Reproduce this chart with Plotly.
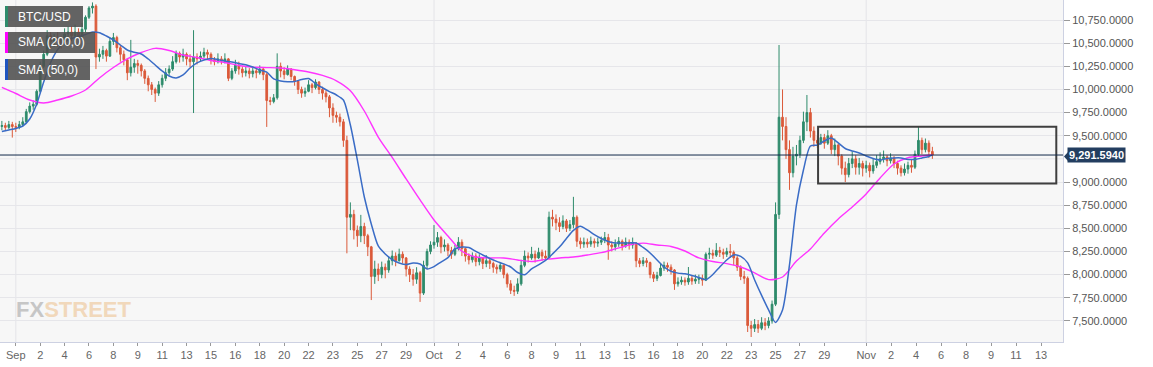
import plotly.graph_objects as go
import pandas as pd

# ---------------- data (6-hour candles) ----------------
candle_start = "2019-08-31 00:00"

opens = [
    9600, 9610, 9590, 9620,   9600, 9590, 9620, 9650,   9760, 9820, 9840, 9980,
    10250, 10380, 10580, 10520,   10560, 10540, 10500, 10600,   10620, 10580, 10620, 10560,
    10650, 10780, 10880, 10900,   10350, 10380, 10420, 10360,   10520, 10560, 10450, 10380,
    10320, 10180, 10240, 10280,   10260, 10200, 10120, 10050,   10000, 9960, 10050, 10120,
    10180, 10220, 10300, 10390,   10350, 10380, 10330, 10300,   10350, 10330, 10360, 10400,
    10380, 10320, 10300, 10330,   10310, 10330, 10120, 10200,   10260, 10220, 10180, 10200,
    10170, 10200, 10180, 10220,   10160, 9880, 9870, 9910,   10250, 10200, 10160, 10220,
    10140, 10090, 10000, 9960,   9980, 10050, 10020, 10080,   10000, 9960, 9920, 9800,
    9720, 9700, 9650, 9450,   8620, 8650, 8480, 8420,   8520, 8420, 8300, 7980,
    8060, 8000, 8080, 8050,   8150, 8200, 8150, 8220,   8180, 8060, 8000, 7950,
    8020, 7800, 8100, 8250,   8320, 8350, 8400, 8300,   8320, 8260, 8220, 8280,
    8350, 8280, 8200, 8160,   8200, 8140, 8180, 8120,   8150, 8120, 8080, 8060,
    8100, 8000, 7900, 7830,   7820, 7900, 8100, 8200,   8180, 8220, 8180, 8240,
    8200, 8180, 8620, 8600,   8560, 8520, 8580, 8500,   8540, 8620, 8360, 8330,
    8350, 8330, 8360, 8340,   8350, 8370, 8400, 8320,   8300, 8330, 8360, 8310,
    8350, 8320, 8340, 8150,   8120, 8150, 8130, 8000,   7960, 7990, 8070, 8100,
    8080, 8050, 7900, 7920,   7940, 7920, 7960, 7930,   7950, 7960, 7940, 8220,
    8230, 8210, 8260, 8240,   8220, 8250, 8240, 8180,   8080, 7980, 7960, 7450,
    7420, 7460, 7420, 7480,   7450, 7500, 7680, 8650,   9700, 9600, 9350, 9100,
    9280, 9300, 9450, 9650,   9750, 9550, 9450, 9420,   9480, 9420, 9500, 9350,
    9400, 9280, 9150, 9080,   9200, 9250, 9160, 9200,   9150, 9180, 9120, 9180,
    9220, 9250, 9270, 9230,   9260, 9200, 9150, 9100,   9140, 9180, 9160, 9300,
    9450, 9350, 9420, 9330,
]
closes = [
    9610, 9590, 9620, 9600,   9590, 9620, 9650, 9760,   9820, 9840, 9980, 10250,
    10380, 10580, 10520, 10560,   10540, 10500, 10600, 10620,   10580, 10620, 10560, 10650,
    10780, 10880, 10900, 10350,   10380, 10420, 10360, 10520,   10560, 10450, 10380, 10320,
    10180, 10240, 10280, 10260,   10200, 10120, 10050, 10000,   9960, 10050, 10120, 10180,
    10220, 10300, 10390, 10350,   10380, 10330, 10300, 10350,   10330, 10360, 10400, 10380,
    10320, 10300, 10330, 10310,   10330, 10120, 10200, 10260,   10220, 10180, 10200, 10170,
    10200, 10180, 10220, 10160,   9880, 9870, 9910, 10250,   10200, 10160, 10220, 10140,
    10090, 10000, 9960, 9980,   10050, 10020, 10080, 10000,   9960, 9920, 9800, 9720,
    9700, 9650, 9450, 8620,   8650, 8480, 8420, 8520,   8420, 8300, 7980, 8060,
    8000, 8080, 8050, 8150,   8200, 8150, 8220, 8180,   8060, 8000, 7950, 8020,
    7800, 8100, 8250, 8320,   8350, 8400, 8300, 8320,   8260, 8220, 8280, 8350,
    8280, 8200, 8160, 8200,   8140, 8180, 8120, 8150,   8120, 8080, 8060, 8100,
    8000, 7900, 7830, 7820,   7900, 8100, 8200, 8180,   8220, 8180, 8240, 8200,
    8180, 8620, 8600, 8560,   8520, 8580, 8500, 8540,   8620, 8360, 8330, 8350,
    8330, 8360, 8340, 8350,   8370, 8400, 8320, 8300,   8330, 8360, 8310, 8350,
    8320, 8340, 8150, 8120,   8150, 8130, 8000, 7960,   7990, 8070, 8100, 8080,
    8050, 7900, 7920, 7940,   7920, 7960, 7930, 7950,   7960, 7940, 8220, 8230,
    8210, 8260, 8240, 8220,   8250, 8240, 8180, 8080,   7980, 7960, 7450, 7420,
    7460, 7420, 7480, 7450,   7500, 7680, 8650, 9700,   9600, 9350, 9100, 9280,
    9300, 9450, 9650, 9750,   9550, 9450, 9420, 9480,   9420, 9500, 9350, 9400,
    9280, 9150, 9080, 9200,   9250, 9160, 9200, 9150,   9180, 9120, 9180, 9220,
    9250, 9270, 9230, 9260,   9200, 9150, 9100, 9140,   9180, 9160, 9300, 9450,
    9350, 9420, 9330, 9291.594,
]
highs = [
    9660, 9640, 9660, 9650,   9640, 9660, 9700, 9790,   9860, 9880, 10000, 10300,
    10420, 10640, 10620, 10600,   10620, 10580, 10660, 10680,   10680, 10700, 10660, 10720,
    10800, 10900, 10940, 10920,   10440, 10470, 10440, 10560,   10610, 10580, 10480, 10420,
    10340, 10535, 10330, 10320,   10280, 10220, 10150, 10080,   10020, 10090, 10160, 10230,
    10260, 10360, 10420, 10410,   10440, 10400, 10380, 10640,   10390, 10410, 10450, 10430,
    10400, 10350, 10390, 10360,   10390, 10340, 10230, 10320,   10300, 10250, 10250, 10230,
    10240, 10230, 10260, 10240,   10180, 9920, 9950, 10390,   10290, 10240, 10260, 10230,
    10150, 10100, 10030, 10020,   10100, 10070, 10110, 10090,   10030, 9990, 9940, 9850,
    9760, 9740, 9680, 9500,   8780, 8700, 8530, 8645,   8560, 8440, 8310, 8150,
    8120, 8140, 8120, 8200,   8260, 8240, 8280, 8250,   8190, 8090, 8060, 8080,
    8040, 8150, 8280, 8360,   8535, 8460, 8420, 8380,   8340, 8300, 8320, 8405,
    8380, 8290, 8230, 8240,   8230, 8220, 8190, 8210,   8180, 8140, 8110, 8130,
    8110, 8020, 7940, 7880,   7960, 8160, 8260, 8240,   8300, 8260, 8290, 8270,
    8260, 8680, 8700, 8650,   8620, 8640, 8600, 8590,   8840, 8640, 8400, 8400,
    8390, 8410, 8390, 8400,   8410, 8460, 8440, 8360,   8380, 8405, 8380, 8400,
    8380, 8400, 8350, 8180,   8190, 8180, 8140, 8030,   8030, 8120, 8140, 8130,
    8110, 8060, 7970, 7980,   7970, 8082, 7990, 8000,   8000, 8000, 8240, 8290,
    8270, 8340, 8300, 8280,   8290, 8330, 8260, 8200,   8100, 8040, 7980, 7500,
    7520, 7510, 7540, 7530,   7540, 7720, 8780, 10480,   10000, 9700, 9450, 9380,
    9400, 9500, 9760, 9940,   9800, 9600, 9500, 9520,   9520, 9560, 9520, 9470,
    9420, 9300, 9220, 9260,   9330, 9290, 9260, 9230,   9230, 9210, 9250, 9290,
    9320, 9340, 9290, 9310,   9280, 9230, 9180, 9200,   9220, 9240, 9340, 9595,
    9480, 9470, 9450, 9380,
]
lows = [
    9560, 9550, 9570, 9480,   9540, 9570, 9600, 9640,   9740, 9780, 9820, 9960,
    10230, 10360, 10440, 10460,   10460, 10440, 10480, 10540,   10520, 10540, 10500, 10540,
    10620, 10760, 10820, 10220,   10300, 10330, 10300, 10350,   10480, 10400, 10300, 10260,
    10100, 10140, 10180, 10170,   10140, 10060, 9980, 9940,   9865, 9930, 10020, 10090,
    10150, 10200, 10280, 10290,   10300, 10260, 10240, 9745,   10270, 10300, 10340, 10320,
    10270, 10260, 10280, 10270,   10280, 10090, 10100, 10170,   10160, 10130, 10140, 10120,
    10130, 10120, 10160, 10100,   9595, 9830, 9850, 9890,   10130, 10110, 10150, 10100,
    10040, 9950, 9910, 9920,   9970, 9960, 10000, 9950,   9890, 9860, 9700, 9640,
    9640, 9600, 9380, 8230,   8480, 8380, 8300, 8350,   8330, 8200, 7725, 7900,
    7930, 7960, 7960, 8020,   8100, 8090, 8140, 8120,   7980, 7920, 7880, 7900,
    7705, 7780, 8060, 8220,   8280, 8300, 8230, 8250,   8200, 8170, 8200, 8260,
    8200, 8140, 8110, 8130,   8090, 8100, 8060, 8080,   8060, 8020, 8010, 8030,
    7960, 7860, 7790, 7770,   7790, 7880, 8080, 8130,   8160, 8130, 8170, 8150,
    8150, 8170, 8520, 8480,   8460, 8490, 8460, 8470,   8500, 8300, 8280, 8290,
    8290, 8300, 8290, 8300,   8320, 8340, 8160, 8250,   8260, 8300, 8260, 8290,
    8270, 8280, 8080, 8080,   8090, 8080, 7960, 7920,   7930, 7980, 8040, 8030,
    8000, 7835, 7870, 7890,   7880, 7890, 7890, 7900,   7900, 7880, 7930, 8170,
    8170, 8190, 8190, 8170,   8190, 8180, 8100, 8040,   7940, 7900, 7380, 7326,
    7380, 7370, 7400, 7400,   7420, 7470, 7660, 8600,   9450, 9250, 8915, 9050,
    9180, 9260, 9420, 9550,   9480, 9380, 9370, 9400,   9360, 9400, 9300, 9280,
    9180, 9080, 9000, 9050,   9150, 9080, 9080, 9060,   9100, 9050, 9090, 9150,
    9190, 9210, 9170, 9200,   9150, 9080, 9060, 9070,   9090, 9100, 9140, 9280,
    9300, 9320, 9260, 9250,
]

# SMA (50,0): every 12 hours from 2019-08-31 00:00
sma50_start = "2019-08-31 00:00"
sma50 = [
    9545, 9562, 9579, 9605, 9681, 9843, 10080, 10291, 10430, 10512,
    10550, 10572, 10593, 10620, 10613, 10577, 10534, 10480, 10426, 10401,
    10383, 10329, 10264, 10199, 10145, 10124, 10156, 10232, 10286, 10318,
    10334, 10322, 10307, 10296, 10280, 10267, 10242, 10210, 10188, 10113,
    10091, 10083, 10086, 10107, 10118, 10064, 10018, 9977, 9940, 9886,
    9616, 9238, 8838, 8547, 8309, 8223, 8162, 8126, 8109, 8126,
    8115, 8061, 8087, 8136, 8183, 8277, 8298, 8292, 8250, 8212,
    8174, 8143, 8116, 8082, 8023, 7998, 8061, 8104, 8153, 8223,
    8298, 8390, 8477, 8522, 8482, 8432, 8390, 8358, 8342, 8342,
    8342, 8342, 8293, 8234, 8158, 8082, 8036, 8016, 8008, 7990,
    7968, 7945, 8001, 8082, 8158, 8212, 8196, 8126, 7942, 7775,
    7618, 7483, 7618, 8104, 8752, 9130, 9389, 9400, 9443, 9476,
    9422, 9362, 9335, 9314, 9281, 9254, 9238, 9254, 9260, 9260,
    9244, 9244, 9260, 9276,
]
# SMA (200,0): daily from 2019-08-31
sma200_start = "2019-08-31 00:00"
sma200 = [
    10022, 9956, 9886, 9854, 9886, 9929, 9994, 10124, 10237, 10329,
    10399, 10444, 10421, 10372, 10345, 10313, 10291, 10259, 10240, 10236,
    10231, 10212, 10188, 10151, 10093, 9985, 9767, 9486, 9265, 9033,
    8806, 8590, 8417, 8252, 8190, 8180, 8180, 8158, 8142, 8164,
    8180, 8190, 8212, 8237, 8277, 8320, 8340, 8320, 8304, 8255,
    8180, 8141, 8118, 8082, 8018, 7946, 7974, 8147, 8277, 8450,
    8601, 8730, 8871, 9044, 9195, 9262, 9281,
]
last_time = "2019-11-05 18:00"
sma50_last = 9290
sma200_last = 9292
last_price = 9291.594

# drawn rectangle (consolidation box)
box_x = ["2019-10-28 13:12", "2019-11-14 15:20"]
box_y = [8984, 9598]

# axis ticks
tick_times = [
    "2019-09-01 00:00", "2019-09-02 18:00", "2019-09-04 12:00", "2019-09-06 06:00",
    "2019-09-08 00:00", "2019-09-09 18:00", "2019-09-11 12:00", "2019-09-13 06:00",
    "2019-09-15 00:00", "2019-09-16 18:00", "2019-09-18 12:00", "2019-09-20 06:00",
    "2019-09-22 00:00", "2019-09-23 18:00", "2019-09-25 12:00", "2019-09-27 06:00",
    "2019-09-29 00:00",
    "2019-10-01 00:00", "2019-10-02 18:00", "2019-10-04 12:00", "2019-10-06 06:00",
    "2019-10-08 00:00", "2019-10-09 18:00", "2019-10-11 12:00", "2019-10-13 06:00",
    "2019-10-15 00:00", "2019-10-16 18:00", "2019-10-18 12:00", "2019-10-20 06:00",
    "2019-10-22 00:00", "2019-10-23 18:00", "2019-10-25 12:00", "2019-10-27 06:00",
    "2019-10-29 00:00",
    "2019-11-01 00:00", "2019-11-02 19:00", "2019-11-04 14:00", "2019-11-06 09:00",
    "2019-11-08 04:00", "2019-11-09 23:00", "2019-11-11 18:00", "2019-11-13 13:00",
]
tick_text = [
    "Sep", "2", "4", "6", "8", "9", "11", "13", "15", "16", "18", "20", "22", "23",
    "25", "27", "29",
    "Oct", "2", "4", "6", "8", "9", "11", "13", "15", "16", "18", "20", "22", "23",
    "25", "27", "29",
    "Nov", "2", "4", "6", "8", "9", "11", "13",
]
# price ticks shown (9,250 is hidden behind the last-price label)
price_ticks = [7500, 7750, 8000, 8250, 8500, 8750, 9000, 9500, 9750, 10000, 10250, 10500, 10750]
hidden_grid = [9250]
month_lines = ["2019-09-01", "2019-10-01", "2019-11-01"]
x_range = ["2019-08-30 20:48", "2019-11-15 02:53"]
y_range = [7272, 10966]

legend_items = [("BTC/USD", "#2e8b6b", 83), ("SMA (200,0)", "#ff00ff", 95), ("SMA (50,0)", "#1f55c0", 90)]

# ---------------- figure ----------------
fmt = "%Y-%m-%d %H:%M"
candle_times = [t.strftime(fmt) for t in pd.date_range(candle_start, periods=len(closes), freq="6h")]
s50_times = [t.strftime(fmt) for t in pd.date_range(sma50_start, periods=len(sma50), freq="12h")] + [last_time]
s200_times = [t.strftime(fmt) for t in pd.date_range(sma200_start, periods=len(sma200), freq="D")] + [last_time]

# keep wicks consistent with bodies
highs_c = [max(h, o, c) for h, o, c in zip(highs, opens, closes)]
lows_c = [min(l, o, c) for l, o, c in zip(lows, opens, closes)]

GREEN = "#2e8b6b"
RED = "#db5a3a"

fig = go.Figure()
fig.add_trace(go.Candlestick(
    x=candle_times, open=opens, high=highs_c, low=lows_c, close=closes,
    increasing=dict(line=dict(color=GREEN, width=1), fillcolor=GREEN),
    decreasing=dict(line=dict(color=RED, width=1), fillcolor=RED),
    whiskerwidth=0, showlegend=False, hoverinfo="skip",
))
fig.add_trace(go.Scatter(
    x=s200_times, y=sma200 + [sma200_last], mode="lines",
    line=dict(color="#ff33ff", width=1.4, shape="spline", smoothing=0.8),
    showlegend=False, hoverinfo="skip",
))
fig.add_trace(go.Scatter(
    x=s50_times, y=sma50 + [sma50_last], mode="lines",
    line=dict(color="#3a6cc6", width=1.5, shape="spline", smoothing=0.7),
    showlegend=False, hoverinfo="skip",
))

PLOT_W = 1063.0
PLOT_H = 342.0

def px(x):
    return x / PLOT_W

def py(y):
    return 1 - y / PLOT_H

shapes = []
for m in month_lines:
    shapes.append(dict(type="line", xref="x", yref="paper", x0=m, x1=m, y0=0, y1=1,
                       line=dict(color="#e4e4e8", width=1), layer="below"))
for g in hidden_grid:
    shapes.append(dict(type="line", xref="paper", yref="y", x0=0, x1=1, y0=g, y1=g,
                       line=dict(color="#e6e6ea", width=1), layer="below"))
# consolidation rectangle
shapes.append(dict(type="rect", xref="x", yref="y", x0=box_x[0], x1=box_x[1], y0=box_y[0], y1=box_y[1],
                   line=dict(color="#3f3f3f", width=2), fillcolor="rgba(0,0,0,0)"))
# last price line
shapes.append(dict(type="line", xref="paper", yref="y", x0=0, x1=1, y0=last_price, y1=last_price,
                   line=dict(color="#12294a", width=1)))

annotations = []
# legend boxes
tops = [6, 32, 59]
for (label, color, right), top in zip(legend_items, tops):
    shapes.append(dict(type="rect", xref="paper", yref="paper", x0=px(5), x1=px(right),
                       y0=py(top + 21), y1=py(top), fillcolor="rgba(78,78,78,0.88)", line=dict(width=0)))
    shapes.append(dict(type="rect", xref="paper", yref="paper", x0=px(5), x1=px(8),
                       y0=py(top + 21), y1=py(top), fillcolor=color, line=dict(width=0)))
    annotations.append(dict(xref="paper", yref="paper", x=px(16), y=py(top + 10.5), xanchor="left",
                            yanchor="middle", text=label, showarrow=False,
                            font=dict(family="Liberation Sans, Arial", size=12, color="white")))

# last price label
annotations.append(dict(xref="paper", yref="y", x=1, y=last_price, xanchor="left", yanchor="middle",
                        xshift=4, text="<b>9,291.5940</b>", showarrow=False, bgcolor="#233e60",
                        borderpad=1, font=dict(family="Liberation Sans, Arial", size=11, color="white")))
shapes.append(dict(type="path", xref="paper", yref="paper",
                   path=f"M {1 + 1/PLOT_W} {py(156.4)} L {1 + 5/PLOT_W} {py(152)} L {1 + 5/PLOT_W} {py(161)} Z",
                   fillcolor="#233e60", line=dict(width=0)))

# watermark
annotations.append(dict(xref="paper", yref="paper", x=px(14), y=py(309), xanchor="left", yanchor="middle",
                        text="<span style='color:#c6c6c6'><b>FX</b></span><span style='color:#f1d8bb'><b>STREET</b></span>",
                        showarrow=False,
                        font=dict(family="Liberation Sans", size=22)))

fig.update_layout(
    width=1153, height=367,
    margin=dict(l=0, r=90, t=0, b=25),
    paper_bgcolor="white", plot_bgcolor="#f7f7f7",
    font=dict(family="Liberation Sans, Arial", size=11, color="#555555"),
    shapes=shapes, annotations=annotations,
    showlegend=False,
    xaxis=dict(type="date", range=x_range, tickvals=tick_times, ticktext=tick_text,
               showgrid=False, zeroline=False, showline=True, linecolor="#cdd1e2", linewidth=1,
               ticks="outside", ticklen=3, tickcolor="#999999", rangeslider=dict(visible=False),
               tickfont=dict(size=11, color="#666666"), fixedrange=True),
    yaxis=dict(side="right", range=y_range, tickvals=price_ticks, tickformat=",.4f",
               showgrid=True, gridcolor="#e6e6ea", gridwidth=1, zeroline=False,
               showline=True, linecolor="#cdd1e2", linewidth=1,
               ticks="outside", ticklen=6, tickcolor="#999999",
               tickfont=dict(size=11, color="#555555"), fixedrange=True),
)

fig.write_html("out.html", config={"displayModeBar": False},
               post_script="document.body.style.margin='0px';")
